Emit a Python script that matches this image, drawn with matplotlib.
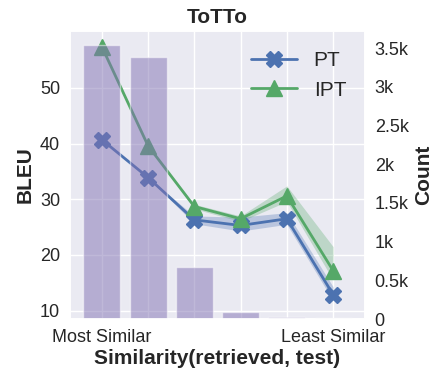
import numpy as np
import matplotlib
matplotlib.use("Agg")
import matplotlib.pyplot as plt
import seaborn as sns
from matplotlib.ticker import FuncFormatter

sns.set_theme(style="darkgrid")
plt.rcParams['font.family'] = ['Liberation Sans', 'DejaVu Sans']

# data
bins = [0, 1, 2, 3, 4, 5]
tick_labels = ["Most Similar", "", "", "", "", "Least Similar"]
counts = [3540, 3385, 672, 90, 26, 13]

pt_bleu = [40.7, 33.9, 26.3, 25.3, 26.5, 12.9]
pt_low = [40.7, 33.9, 25.6, 24.3, 25.5, 11.8]
pt_high = [40.7, 33.9, 27.0, 26.8, 27.6, 14.3]

ipt_bleu = [57.4, 39.6, 28.7, 26.5, 30.6, 17.2]
ipt_low = [57.4, 39.6, 28.3, 26.0, 29.6, 15.5]
ipt_high = [57.4, 39.6, 29.1, 27.0, 32.4, 21.5]

fig = plt.figure(figsize=(4.34, 3.74), dpi=100)
ax = fig.add_axes([0.161, 0.147, 0.68, 0.77])

blue = sns.color_palette("deep")[0]
green = sns.color_palette("deep")[2]
purple = sns.color_palette("deep")[4]

ax.fill_between(bins, pt_low, pt_high, color=blue, alpha=0.3, lw=0)
ax.fill_between(bins, ipt_low, ipt_high, color=green, alpha=0.3, lw=0)
ax.plot(bins, pt_bleu, color=blue, marker="X", markersize=12, lw=2, label="PT")
ax.plot(bins, ipt_bleu, color=green, marker="^", markersize=12, lw=2, label="IPT")

ax.set_xlim(-0.69, 5.69)
ax.set_ylim(8.5, 60.2)
ax.set_yticks([10, 20, 30, 40, 50])
ax.set_xticks(bins)
ax.set_xticklabels(tick_labels)
ax.set_ylabel("BLEU", fontsize=15, fontweight="bold", labelpad=4)
ax.set_xlabel("Similarity(retrieved, test)", fontsize=15, fontweight="bold", labelpad=2)
ax.set_title("ToTTo", fontsize=15, fontweight="bold", pad=6)
ax.legend(loc="upper right", fontsize=15, frameon=False, handlelength=2.2,
          bbox_to_anchor=(1.0, 0.995))

ax2 = ax.twinx()
ax2.bar(bins, counts, width=0.8, color=purple, alpha=0.5)
ax2.set_ylim(0, 3720)
ax2.grid(False)
ax2.set_yticks([0, 500, 1000, 1500, 2000, 2500, 3000, 3500])
ax2.yaxis.set_major_formatter(FuncFormatter(lambda v, p: "0" if v == 0 else f"{v/1000:g}k"))
ax2.set_ylabel("Count", fontsize=15, fontweight="bold", labelpad=4)

ax.tick_params(labelsize=13, length=0, pad=7)
ax2.tick_params(labelsize=13, length=0, pad=7)

fig.savefig("out.png", dpi=100)
